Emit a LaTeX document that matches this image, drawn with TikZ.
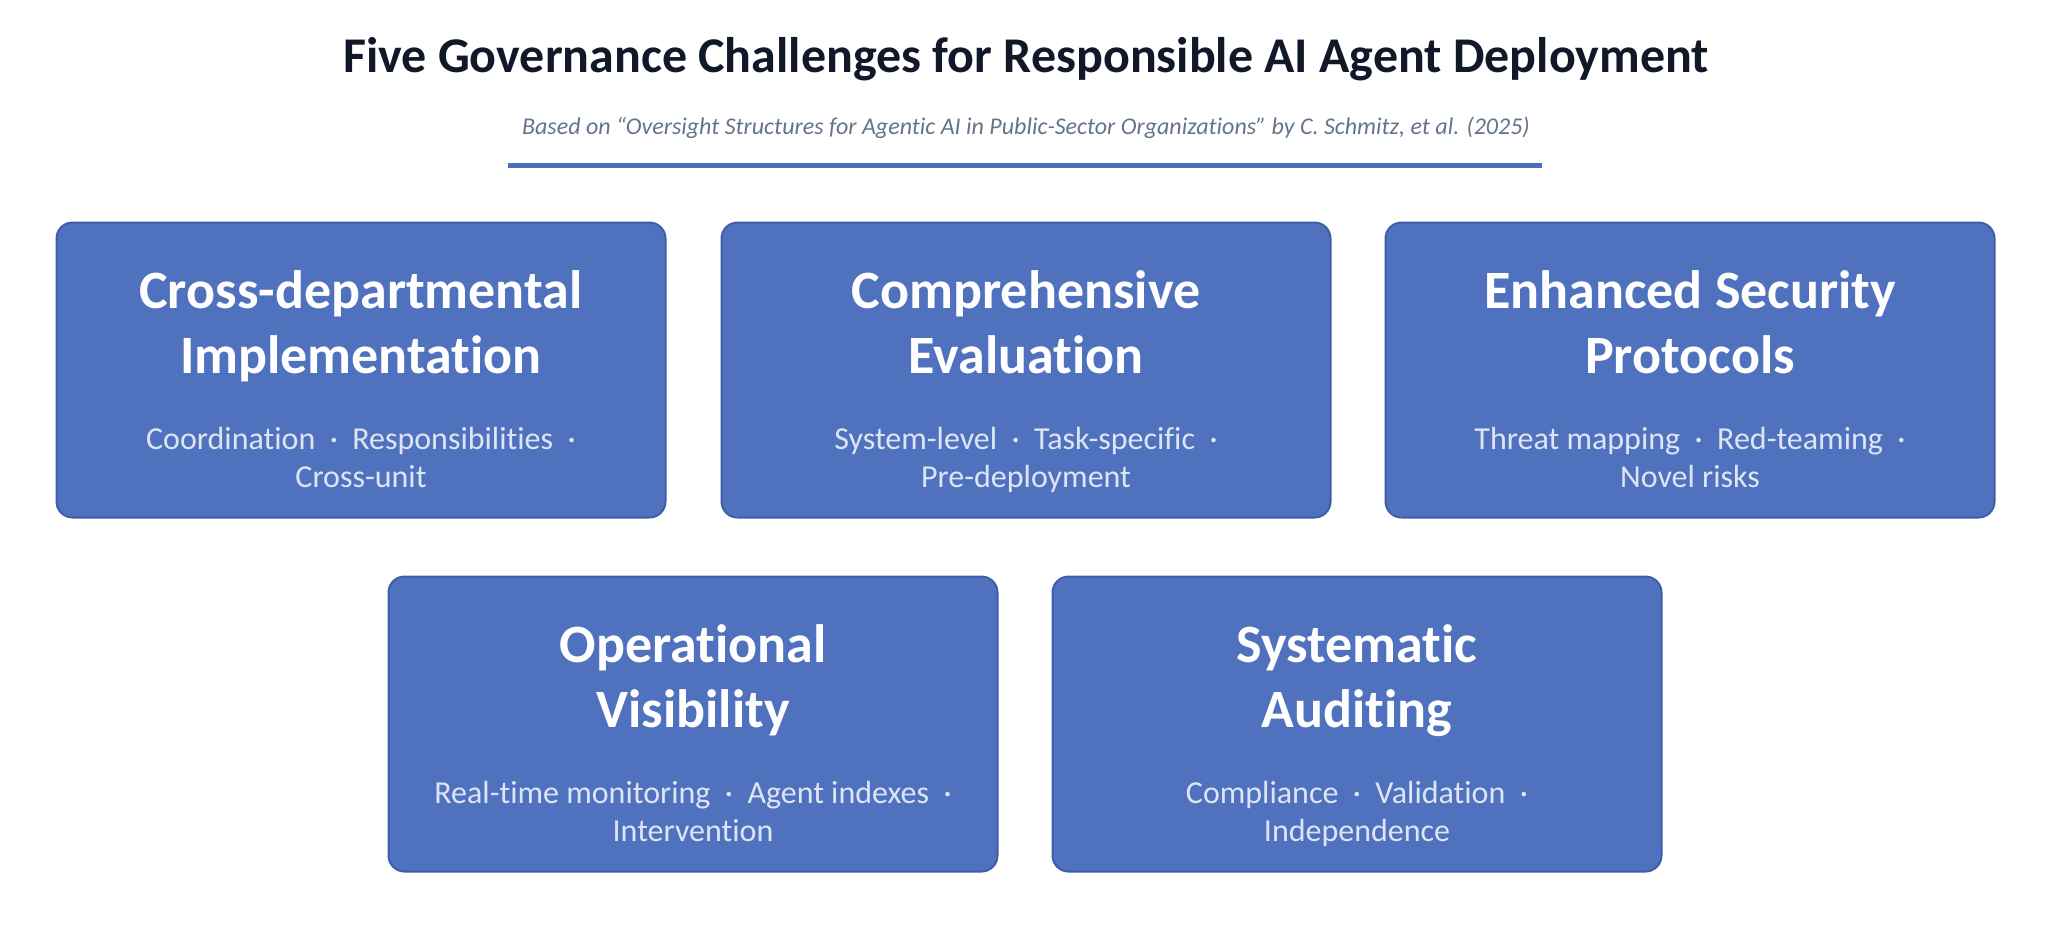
\documentclass[tikz,border=0pt]{standalone}
\usepackage{fontspec}
\setmainfont[Ligatures=NoCommon]{Carlito}
\usepackage{xcolor}
\usepackage{tikz}
\usetikzlibrary{positioning}

\definecolor{boxblue}{HTML}{5072BE}
\definecolor{boxedge}{HTML}{3D5EA8}
\definecolor{titleink}{HTML}{111827}
\definecolor{citeink}{HTML}{64748B}
\definecolor{detailink}{HTML}{DDE5F5}
\definecolor{rulerblue}{HTML}{4A6FBF}

\begin{document}
\begin{tikzpicture}[x=0.5pt, y=-0.5pt,
    challenge/.style={draw=boxedge, line width=1pt, fill=boxblue, rounded corners=8pt,
        minimum width=304.5pt, minimum height=147.5pt, inner sep=0pt},
    headline/.style={anchor=base, text=white, align=center, inner sep=0pt,
        font=\fontsize{27}{32.5}\selectfont\bfseries},
    details/.style={anchor=base, text=detailink, align=center, inner sep=0pt,
        font=\fontsize{16}{19}\selectfont}]
    \useasboundingbox (0,0) rectangle (2054,950);

    % heading
    \node[anchor=base, text=titleink, font=\fontsize{25}{30}\selectfont\bfseries] (title) at (1026,72)
        {Five Governance Challenges for Responsible AI Agent Deployment};
    \node[anchor=base, text=citeink, font=\fontsize{12}{14}\selectfont\itshape] (cite) at (1026,134)
        {Based on “Oversight Structures for Agentic AI in Public-Sector Organizations” by C. Schmitz, et al. (2025)};
    \draw[rulerblue, line width=2.5pt] (508,165) -- (1542,165);

    % top row
    \node[challenge] (cross) at (361,370) {};
    \node[headline] (crossHead) at ([yshift=-76pt]cross.north) {Cross-departmental\\Implementation};
    \node[details] (crossText) at ([yshift=-133pt]cross.north) {Coordination\ \ ·\ \ Responsibilities\ \ ·\\Cross-unit};

    \node[challenge] (eval) at (1026,370) {};
    \node[headline] (evalHead) at ([yshift=-76pt]eval.north) {Comprehensive\\Evaluation};
    \node[details] (evalText) at ([yshift=-133pt]eval.north) {System-level\ \ ·\ \ Task-specific\ \ ·\\Pre-deployment};

    \node[challenge] (secure) at (1690,370) {};
    \node[headline] (secureHead) at ([yshift=-76pt]secure.north) {Enhanced Security\\Protocols};
    \node[details] (secureText) at ([yshift=-133pt]secure.north) {Threat mapping\ \ ·\ \ Red-teaming\ \ ·\\Novel risks};

    % bottom row
    \node[challenge] (visible) at (693,724) {};
    \node[headline] (visibleHead) at ([yshift=-76pt]visible.north) {Operational\\Visibility};
    \node[details] (visibleText) at ([yshift=-133pt]visible.north) {Real-time monitoring\ \ ·\ \ Agent indexes\ \ ·\\Intervention};

    \node[challenge] (audit) at (1357,724) {};
    \node[headline] (auditHead) at ([yshift=-76pt]audit.north) {Systematic\\Auditing};
    \node[details] (auditText) at ([yshift=-133pt]audit.north) {Compliance\ \ ·\ \ Validation\ \ ·\\Independence};
\end{tikzpicture}
\end{document}
